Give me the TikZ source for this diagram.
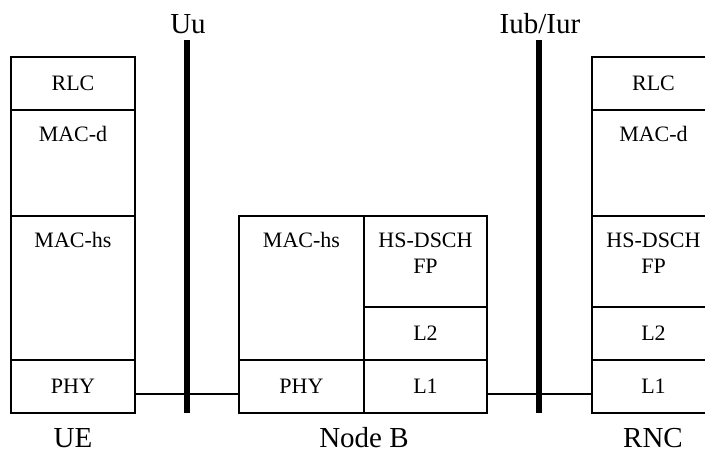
\documentclass[tikz,border=0pt]{standalone}
\usepackage{fontspec}
\setmainfont{Liberation Serif}
\usetikzlibrary{positioning}

\begin{document}
\begin{tikzpicture}[x=1pt,y=-1pt]
    \tikzstyle{every node}=[font=\fontsize{22}{26}\selectfont,align=center]
    \tikzstyle{layer}=[draw,line width=1.5pt,inner sep=0pt,outer sep=0pt,anchor=north west]
    \tikzstyle{toptext}=[inner sep=0pt]
    \tikzstyle{big}=[font=\fontsize{29}{34}\selectfont,inner sep=0pt,anchor=base]
    \tikzstyle{iface}=[line width=6pt]
    \tikzstyle{link}=[line width=1.5pt]

    \useasboundingbox (0,0) rectangle (705,452);

    % UE
    \node[layer,minimum width=124pt,minimum height=53pt] (ue-rlc) at (11,57) {RLC};
    \node[layer,minimum width=124pt,minimum height=106pt] (ue-macd) at (11,110) {};
    \node[toptext,below=16pt of ue-macd.north] (ue-macd-t) {MAC-d};
    \node[layer,minimum width=124pt,minimum height=144pt] (ue-machs) at (11,216) {};
    \node[toptext,below=16pt of ue-machs.north] (ue-machs-t) {MAC-hs};
    \node[layer,minimum width=124pt,minimum height=53pt] (ue-phy) at (11,360) {PHY};

    % Node B
    \node[layer,minimum width=125pt,minimum height=144pt] (nb-machs) at (239,216) {};
    \node[toptext,below=16pt of nb-machs.north] (nb-machs-t) {MAC-hs};
    \node[layer,minimum width=125pt,minimum height=53pt] (nb-phy) at (239,360) {PHY};
    \node[layer,minimum width=123pt,minimum height=91pt] (nb-fp) at (364,216) {};
    \node[toptext,below=17pt of nb-fp.north] (nb-fp-t) {HS-DSCH\\FP};
    \node[layer,minimum width=123pt,minimum height=53pt] (nb-l2) at (364,307) {L2};
    \node[layer,minimum width=123pt,minimum height=53pt] (nb-l1) at (364,360) {L1};

    % RNC
    \node[layer,minimum width=123pt,minimum height=53pt] (rnc-rlc) at (592,57) {RLC};
    \node[layer,minimum width=123pt,minimum height=106pt] (rnc-macd) at (592,110) {};
    \node[toptext,below=16pt of rnc-macd.north] (rnc-macd-t) {MAC-d};
    \node[layer,minimum width=123pt,minimum height=91pt] (rnc-fp) at (592,216) {};
    \node[toptext,below=17pt of rnc-fp.north] (rnc-fp-t) {HS-DSCH\\FP};
    \node[layer,minimum width=123pt,minimum height=53pt] (rnc-l2) at (592,307) {L2};
    \node[layer,minimum width=123pt,minimum height=53pt] (rnc-l1) at (592,360) {L1};

    % interfaces
    \node[big] (uu) at (188,34) {Uu};
    \node[big] (iub) at (540,34) {Iub/Iur};
    \coordinate (uu-top) at (187,40);
    \coordinate (uu-bot) at (187,413);
    \coordinate (iub-top) at (539,40);
    \coordinate (iub-bot) at (539,413);

    \draw[link] ([yshift=-7.5pt]ue-phy.east) -- ([yshift=-7.5pt]nb-phy.west);
    \draw[link] ([yshift=-7.5pt]nb-l1.east) -- ([yshift=-7.5pt]rnc-l1.west);
    \draw[iface] (uu-top) -- (uu-bot);
    \draw[iface] (iub-top) -- (iub-bot);

    % entities
    \node[big] (ue) at (73,447) {UE};
    \node[big] (nb) at (364,447) {Node B};
    \node[big] (rnc) at (653,447) {RNC};
\end{tikzpicture}
\end{document}
